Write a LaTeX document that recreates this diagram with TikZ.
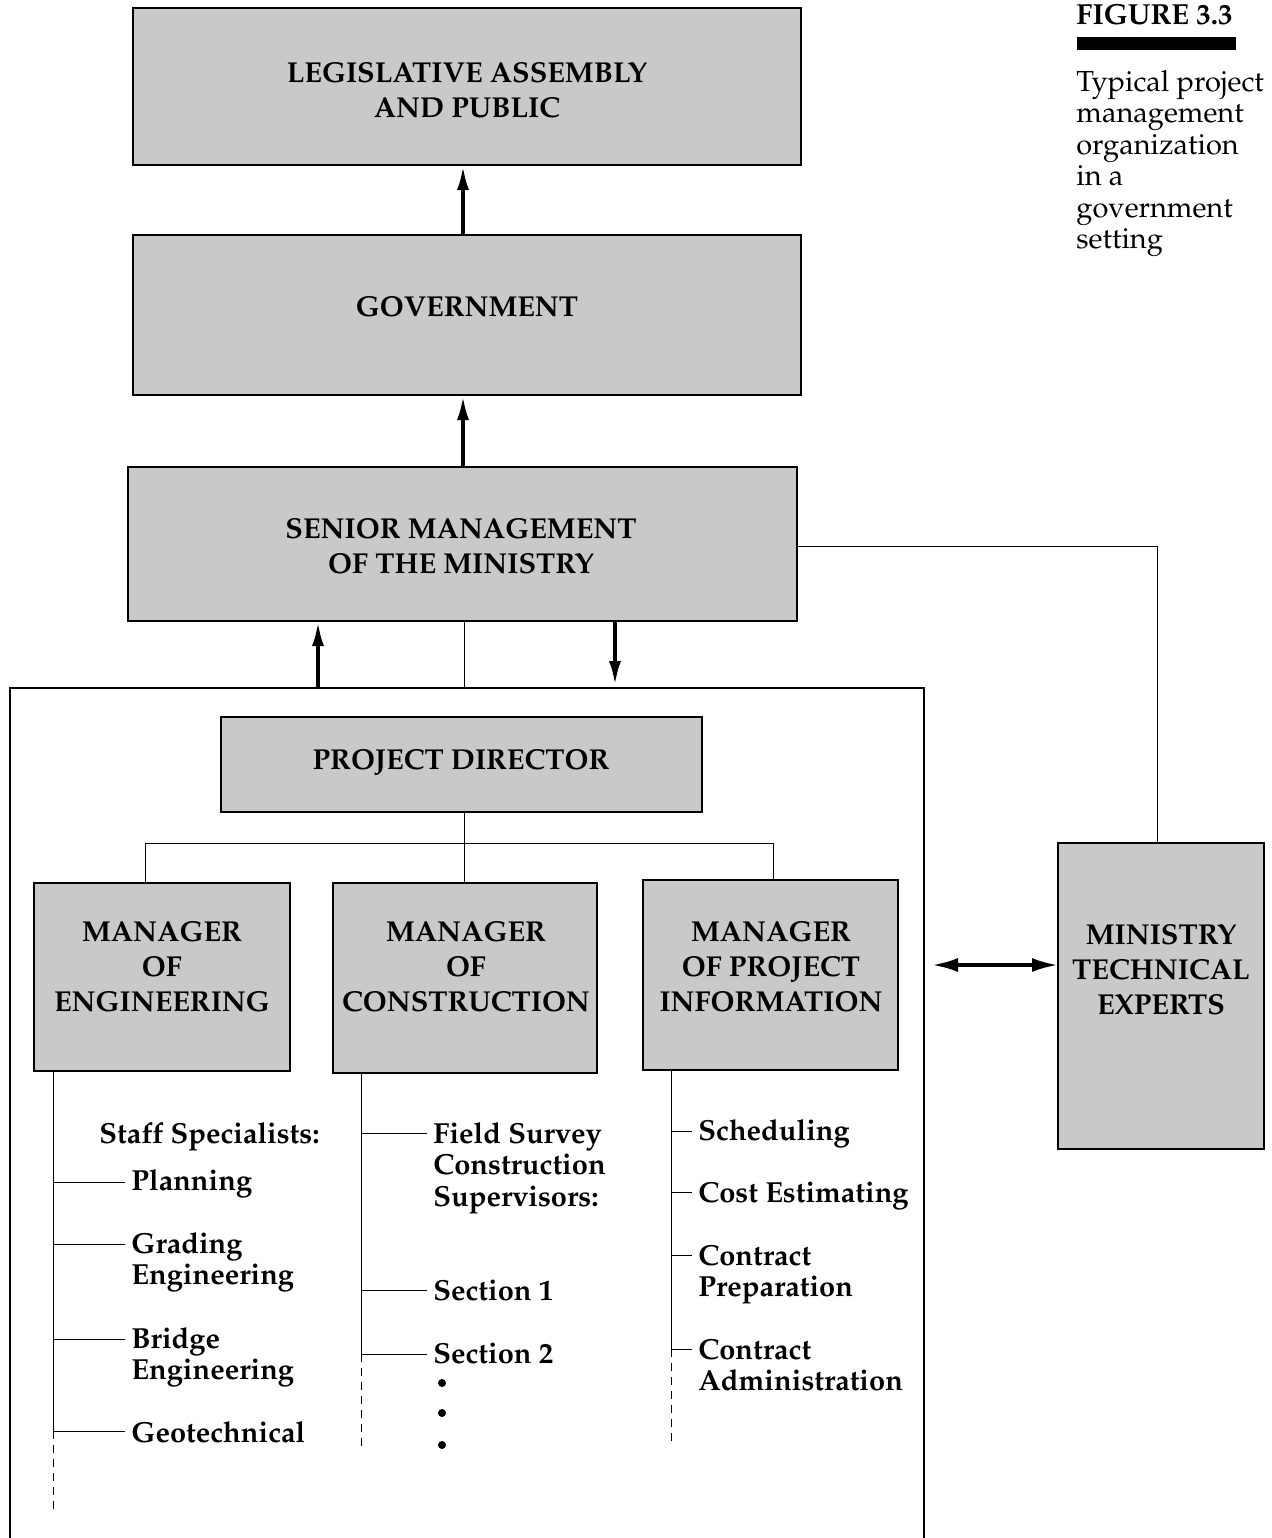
\documentclass[tikz,border=0pt]{standalone}
\usepackage[T1]{fontenc}
\renewcommand{\rmdefault}{ppl}
\usetikzlibrary{arrows.meta,calc}
\begin{document}
\begin{tikzpicture}[x=0.5pt,y=-0.5pt,
  box/.style={draw=black, line width=0.6pt, fill=black!21, inner sep=0pt, outer sep=0pt, anchor=north west},
  boxtext/.style={font=\fontsize{14.4}{17.5}\selectfont\bfseries, align=center, inner sep=0pt},
  lbl/.style={font=\fontsize{14.5}{15.75}\selectfont\bfseries, align=left, anchor=base west, inner xsep=3pt, inner ysep=0pt},
  thinline/.style={line width=0.5pt},
  framelin/.style={line width=1.4pt},
  bigarrow/.style={line width=2pt, -{Latex[length=12.5pt,width=6pt]}},
  dblarrow/.style={line width=1.8pt, {Latex[length=13pt,width=7pt]}-{Latex[length=13pt,width=7pt]}},
  treedash/.style={line width=0.5pt, dash pattern=on 4pt off 3pt},
]
\useasboundingbox (0,0) rectangle (1272,1538);

% boxes
\node[box, minimum width=334pt, minimum height=78.5pt] (leg) at (133,8) {};
\node[box, minimum width=334pt, minimum height=80pt] (gov) at (133,235) {};
\node[box, minimum width=334.5pt, minimum height=77pt] (sen) at (128,467) {};
\node[box, minimum width=240.5pt, minimum height=47.5pt] (pd) at (221,717) {};
\node[box, minimum width=128pt, minimum height=94pt] (meng) at (34,883) {};
\node[box, minimum width=132pt, minimum height=95pt] (mcon) at (333,883) {};
\node[box, minimum width=127.5pt, minimum height=95pt] (mpi) at (643,880) {};
\node[box, minimum width=103pt, minimum height=153pt] (mte) at (1058,843) {};

% box texts
\node[boxtext] (legt) at (467,90) {LEGISLATIVE ASSEMBLY\\AND PUBLIC};
\node[boxtext] (govt) at (467,307) {GOVERNMENT};
\node[boxtext] (sent) at (461,546) {SENIOR MANAGEMENT\\OF THE MINISTRY};
\node[boxtext] (pdt) at (461,763) {PROJECT DIRECTOR};
\node[boxtext] (mengt) at (162,967) {MANAGER\\OF\\ENGINEERING};
\node[boxtext] (mcont) at (466,967) {MANAGER\\OF\\CONSTRUCTION};
\node[boxtext] (mpit) at (771,967) {MANAGER\\OF PROJECT\\INFORMATION};
\node[boxtext] (mtet) at (1161,970) {MINISTRY\\TECHNICAL\\EXPERTS};

% top arrows
\coordinate (ax) at (463,300);
\draw[bigarrow] (ax |- gov.north) -- (ax |- leg.south);
\draw[bigarrow] (ax |- sen.north) -- (ax |- gov.south);

% frame
\coordinate (fbl) at (10,1538);
\coordinate (ftl) at (10,688);
\coordinate (ftr) at (924,688);
\coordinate (fbr) at (924,1538);
\draw[framelin] (fbl) -- (ftl) -- (ftr) -- (fbr);

% links between senior management and frame
\coordinate (fup) at (318,688);
\coordinate (fdn) at (615,686);
\coordinate (fmid) at (464,688);
\draw[bigarrow] (fup) -- (fup |- sen.south);
\draw[bigarrow] (fdn |- sen.south) -- (fdn);
\draw[thinline] (fmid |- sen.south) -- (fmid);

% project director to managers
\coordinate (barL) at (145,843);
\coordinate (barR) at (773,843);
\coordinate (barM) at (464,843);
\draw[thinline] (barM |- pd.south) -- (barM |- mcon.north);
\draw[thinline] (barL |- meng.north) -- (barL) -- (barR) -- (barR |- mpi.north);

% senior management to ministry technical experts
\coordinate (sx) at (1157,546);
\draw[thinline] (sx -| sen.east) -- (sx) -- (sx |- mte.north);

% double arrow
\coordinate (dal) at (932,965);
\draw[dblarrow] (dal) -- (dal -| mte.west);

% left tree
\coordinate (e0) at (53,1071);
\coordinate (e1) at (53,1182);
\coordinate (e2) at (53,1244);
\coordinate (e3) at (53,1339);
\coordinate (e4) at (53,1431);
\coordinate (e5) at (53,1510);
\draw[thinline] (e0) -- (e4);
\draw[treedash] (e4) -- (e5);
\node[lbl] (ss) at (93,1143) {Staff Specialists:};
\node[lbl] (plan) at (125,1190) {Planning};
\node[lbl] (grad) at (125,1284.5) {Grading\\Engineering};
\node[lbl] (brid) at (125,1379.5) {Bridge\\Engineering};
\node[lbl] (geot) at (125,1442) {Geotechnical};
\draw[thinline] (e1) -- (e1 -| plan.west);
\draw[thinline] (e2) -- (e2 -| grad.west);
\draw[thinline] (e3) -- (e3 -| brid.west);
\draw[thinline] (e4) -- (e4 -| geot.west);

% middle tree
\coordinate (c0) at (361,1073);
\coordinate (c1) at (361,1133);
\coordinate (c2) at (361,1290);
\coordinate (c3) at (361,1354);
\coordinate (c4) at (361,1447);
\draw[thinline] (c0) -- (c3);
\draw[treedash] (c3) -- (c4);
\node[lbl] (fsur) at (427,1206) {Field Survey\\Construction\\Supervisors:};
\node[lbl] (sec1) at (427,1300) {Section 1};
\node[lbl] (sec2) at (427,1363) {Section 2};
\draw[thinline] (c1) -- (c1 -| fsur.west);
\draw[thinline] (c2) -- (c2 -| sec1.west);
\draw[thinline] (c3) -- (c3 -| sec2.west);
\fill (442,1383) circle[radius=4];
\fill (442,1413) circle[radius=4];
\fill (442,1445) circle[radius=4];

% right tree
\coordinate (r0) at (671,1070);
\coordinate (r1) at (671,1131);
\coordinate (r2) at (671,1192);
\coordinate (r3) at (671,1255);
\coordinate (r4) at (671,1349);
\coordinate (r5) at (671,1445);
\draw[thinline] (r0) -- (r4);
\draw[treedash] (r4) -- (r5);
\node[lbl] (sched) at (692,1140) {Scheduling};
\node[lbl] (cost) at (692,1202) {Cost Estimating};
\node[lbl] (cprep) at (692,1296.5) {Contract\\Preparation};
\node[lbl] (cadm) at (692,1390.5) {Contract\\Administration};
\draw[thinline] (r1) -- (r1 -| sched.west);
\draw[thinline] (r2) -- (r2 -| cost.west);
\draw[thinline] (r3) -- (r3 -| cprep.west);
\draw[thinline] (r4) -- (r4 -| cadm.west);

% caption
\node[font=\fontsize{14.5}{16}\selectfont\bfseries, anchor=base west, inner sep=0pt] (fig) at (1076,24) {FIGURE 3.3};
\node[fill=black, minimum width=79.5pt, minimum height=6.5pt, inner sep=0pt, anchor=north west] (figbar) at (1077,37) {};
\node[font=\fontsize{14.5}{15.75}\selectfont, align=left, anchor=base west, inner sep=0pt] (cap) at (1076,248.5) {Typical project\\management\\organization\\in a\\government\\setting};
\end{tikzpicture}
\end{document}
